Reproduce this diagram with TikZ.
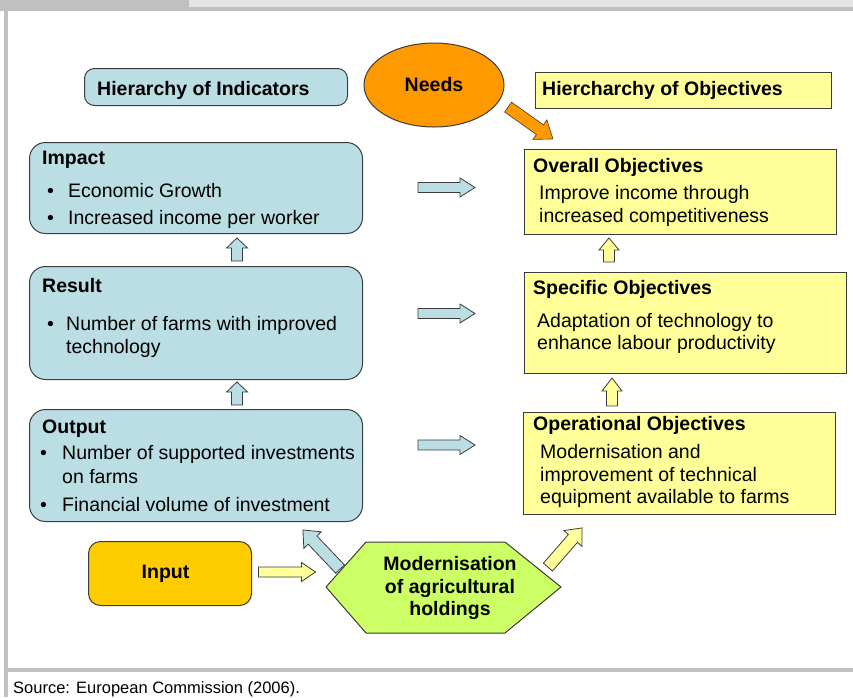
\documentclass[tikz,border=0pt]{standalone}
\usepackage{fontspec}
\setmainfont{Liberation Sans}
\usetikzlibrary{shapes.geometric}
\definecolor{lblue}{RGB}{186,222,228}
\definecolor{lyellow}{RGB}{255,255,153}
\definecolor{orangec}{RGB}{255,153,0}
\definecolor{inputc}{RGB}{255,204,0}
\definecolor{hexc}{RGB}{204,255,102}
\definecolor{boxline}{RGB}{60,60,60}
\definecolor{framedark}{RGB}{192,192,192}
\definecolor{framelight}{RGB}{228,228,228}
\newcommand\fsz{\fontsize{19.5}{23}\selectfont}
% #1 name, #2 centre, #3 angle, #4 length, #5 shaft half width, #6 head half width, #7 head length, #8 style
\newcommand\blkarrow[8]{%
  \coordinate (#1) at #2;
  \draw[#8, shift={#2}, rotate=#3] ({-#4/2},{-#5}) -- ({#4/2-#7},{-#5}) -- ({#4/2-#7},{-#6}) -- ({#4/2},0) -- ({#4/2-#7},{#6}) -- ({#4/2-#7},{#5}) -- ({-#4/2},{#5}) -- cycle;}
\begin{document}
\begin{tikzpicture}[x=1pt,y=-1pt,
  bluebox/.style={draw=boxline, fill=lblue, line width=1pt, rounded corners=16pt, inner sep=0, anchor=north west},
  yelbox/.style={draw=boxline, fill=lyellow, line width=1pt, inner sep=0, anchor=north west},
  txt/.style={anchor=base west, inner sep=0, font=\fsz},
  btxt/.style={anchor=base west, inner sep=0, font=\fsz\bfseries},
  ctxt/.style={anchor=base, inner sep=0, font=\fsz\bfseries},
  arrblue/.style={draw=boxline, fill=lblue, line width=0.8pt},
  arryel/.style={draw=boxline, fill=lyellow, line width=0.8pt},
  arrorange/.style={draw=boxline, fill=orangec, line width=0.6pt}]
\useasboundingbox (0,0) rectangle (853,697);
% frame
\fill[framedark] (0,0) rectangle (853,10.5);
\fill[framelight] (189,0) rectangle (853,7);
\fill[framedark] (4,10) rectangle (8,697);
\fill[framedark] (8,668) rectangle (853,672);
\node[anchor=base west, inner sep=0, font=\fontsize{16.5}{18}\selectfont] (src) at (13,693) {Source: European Commission (2006).};

% headers
\node[bluebox, rounded corners=10pt, minimum width=263, minimum height=37] (hind) at (84,68) {};
\node[btxt] (hindT) at (97,95) {Hierarchy of Indicators};
\node[ellipse, draw=boxline, fill=orangec, line width=1pt, minimum width=140, minimum height=84, inner sep=0, font=\fsz\bfseries] (needs) at (434,85) {Needs};
\node[yelbox, minimum width=296, minimum height=36] (hobj) at (535,72) {};
\node[btxt] (hobjT) at (542,95) {Hiercharchy of Objectives};

% left boxes
\node[bluebox, minimum width=333, minimum height=91] (impact) at (29,142) {};
\node[btxt] (impactT) at (42,164) {Impact};
\node[txt] (impB1) at (47,197) {•};
\node[txt] (impL1) at (68,197) {Economic Growth};
\node[txt] (impB2) at (47,224) {•};
\node[txt] (impL2) at (68,224) {Increased income per worker};

\node[bluebox, minimum width=333, minimum height=113] (result) at (29,266) {};
\node[btxt] (resultT) at (42,292) {Result};
\node[txt] (resB1) at (47,330) {•};
\node[txt] (resL1) at (66,330) {Number of farms with improved};
\node[txt] (resL2) at (66,353) {technology};

\node[bluebox, minimum width=333, minimum height=112] (output) at (29,409) {};
\node[btxt] (outputT) at (42,433) {Output};
\node[txt] (outB1) at (40,459) {•};
\node[txt] (outL1) at (62,459) {Number of supported investments};
\node[txt] (outL2) at (62,483) {on farms};
\node[txt] (outB2) at (40,511) {•};
\node[txt] (outL3) at (62,511) {Financial volume of investment};

% right boxes
\node[yelbox, minimum width=312, minimum height=85] (overall) at (524,149) {};
\node[btxt] (overallT) at (533,172) {Overall Objectives};
\node[txt] (ovL1) at (539,199) {Improve income through};
\node[txt] (ovL2) at (539,222) {increased competitiveness};

\node[yelbox, minimum width=322, minimum height=101] (specific) at (524,272) {};
\node[btxt] (specificT) at (533,294) {Specific Objectives};
\node[txt] (spL1) at (537,327) {Adaptation of technology to};
\node[txt] (spL2) at (537,349) {enhance labour productivity};

\node[yelbox, minimum width=312, minimum height=102] (oper) at (523,412) {};
\node[btxt] (operT) at (533,430) {Operational Objectives};
\node[txt] (opL1) at (540,458) {Modernisation and};
\node[txt] (opL2) at (540,481) {improvement of technical};
\node[txt] (opL3) at (540,503) {equipment available to farms};

% input and hexagon
\node[bluebox, fill=inputc, rounded corners=12pt, minimum width=163, minimum height=64] (input) at (88,541) {};
\node[ctxt] (inputT) at (165.5,578) {Input};
\draw[draw=boxline, fill=hexc, line width=1pt] (326,587) -- (366,542) -- (505,542) -- (561,587) -- (505,633) -- (366,633) -- cycle;
\coordinate (hex) at (443,587);
\node[ctxt] (hexL1) at (450,570) {Modernisation};
\node[ctxt] (hexL2) at (450,593) {of agricultural};
\node[ctxt] (hexL3) at (450,615) {holdings};

% block arrows
\blkarrow{aImp}{(446.5,187.5)}{0}{57}{5}{9.5}{15}{arrblue}
\blkarrow{aRes}{(446.5,313.5)}{0}{57}{5}{9.5}{15}{arrblue}
\blkarrow{aOut}{(446.5,445)}{0}{57}{5}{9.5}{15}{arrblue}
\blkarrow{aUp1}{(237,249.5)}{90}{23}{5.5}{10.5}{10}{arrblue}
\blkarrow{aUp2}{(237,393.5)}{90}{23}{5.5}{10.5}{10}{arrblue}
\blkarrow{aYUp1}{(609,250)}{90}{24}{5.5}{10}{12}{arryel}
\blkarrow{aYUp2}{(612,392)}{90}{28}{5.5}{10}{13}{arryel}
\blkarrow{aNeeds}{(530.5,123)}{-35.4}{55}{6}{12}{16}{arrorange}
\blkarrow{aIn}{(287,572)}{0}{57}{5}{9.5}{14}{arryel}
\blkarrow{aHexL}{(321.5,549.5)}{133.5}{54}{6}{12}{14}{arrblue}
\blkarrow{aHexR}{(565,547.5)}{48.9}{52}{6}{12}{14}{arryel}
\end{tikzpicture}
\end{document}
